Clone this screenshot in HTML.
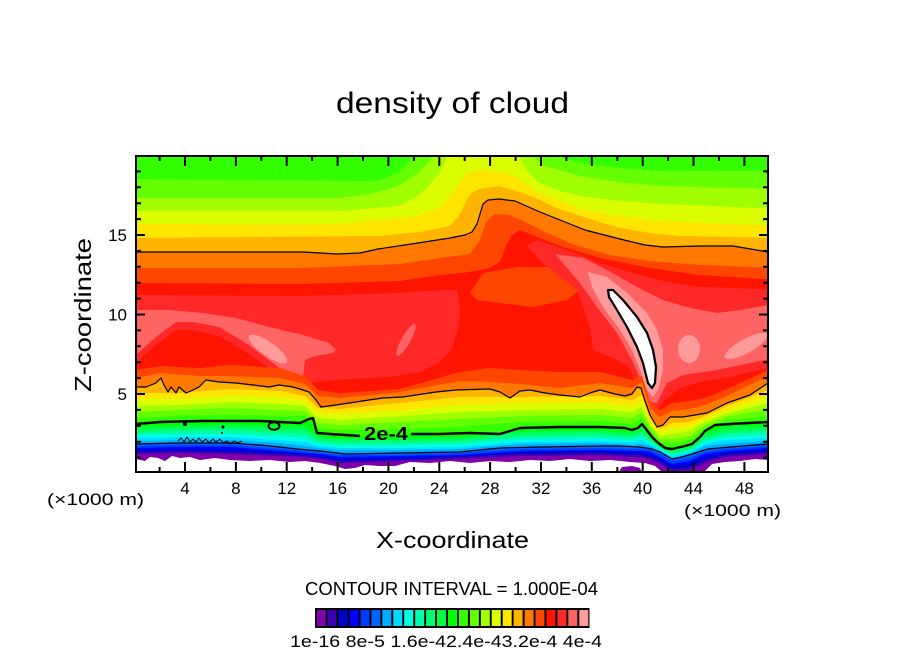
<!DOCTYPE html>
<html><head><meta charset="utf-8"><style>body{margin:0;background:#fff}svg{display:block}</style></head>
<body>
<svg width="904" height="654" viewBox="0 0 904 654" xmlns="http://www.w3.org/2000/svg" font-family="'Liberation Sans', sans-serif">
<defs><clipPath id="c"><rect x="136" y="156" width="632" height="316"/></clipPath></defs>
<rect width="904" height="654" fill="#fff"/>
<g clip-path="url(#c)">
<rect x="130" y="150" width="660" height="340" fill="#32ff00"/>
<polygon fill="#64ff00" points="130,179 250,180 378,181 400,172 418,150 540,150 580,163 620,168 660,171 780,171 780,480 130,480"/>
<polygon fill="#a0ff00" points="130,198 338,198 370,194 398,186 420,172 438,150 523,150 545,166 580,176 620,182 660,186 780,189 780,480 130,480"/>
<polygon fill="#dcff00" points="130,211 338,211 398,206 415,198 426,189 440,172 450,150 515,150 527,170 539,183 560,191 580,196 620,201 660,204 780,209 780,480 130,480"/>
<polygon fill="#ffe600" points="130,224 338,224 418,216 440,207 450,196 460,183 467,173 480,170 491,171 505,173 515,176 527,184 539,193 560,201 580,209 620,216 660,221 780,226 780,480 130,480"/>
<polygon fill="#ffb400" points="130,238 378,236 420,232 450,226 460,214 467,199 472,193 479,189 499,186 523,193 540,200 559,209 590,219 620,228 650,233 680,236 780,238 780,480 130,480"/>
<polygon fill="#ff7800" points="130,252 303,252 337,254 360,253 378,249 418,243 450,238 465,235 472,232 477,224 480,214 483,204 488,200 499,199 515,201 540,212 560,220 585,230 620,239 645,245 663,247 700,246 733,246 768,252 780,253 780,480 130,480"/>
<polygon fill="#ff4600" points="130,268 300,268 400,264 440,258 470,254 480,240 486,222 495,214 510,215 525,222 545,232 575,245 610,255 650,261 700,265 780,268 780,480 130,480"/>
<polygon fill="#ff1400" points="130,283 300,284 400,281 440,275 470,272 490,268 500,262 506,246 512,235 520,230 535,236 560,246 600,258 650,268 700,275 780,280 780,480 130,480"/>
<polygon fill="#ff4600" points="470,293 483,273 517,267 560,267 583,270 583,287 567,300 533,307 500,303 477,300"/>
<polygon fill="#ff2828" points="130,295 300,296 400,293 440,290 457,290 460,310 458,330 452,348 440,362 420,372 390,377 350,379 325,381 305,384 296,384 290,378 269,368 246,352 219,336 193,330 176,330 156,345 130,368"/>
<polygon fill="#ff2828" points="527,246 537,240 567,250 600,263 633,273 667,282 700,287 733,288 780,290 780,365 730,377 700,382 680,388 665,400 655,412 650,410 643,397 637,383 627,365 617,360 593,350 590,327 577,290 543,263"/>
<polygon fill="#ff6464" points="130,310 169,310 203,313 236,318 269,327 303,335 329,343 336,350 333,353 315,356 305,360 303,377 296,383 286,373 269,360 246,343 219,327 193,322 176,322 156,337 130,360"/>
<ellipse cx="406" cy="340" rx="18" ry="4.5" fill="#ff6464" transform="rotate(-60.6 406 340)"/>
<polygon fill="#ff6464" points="555,254 583,258 607,270 637,287 663,300 690,308 717,313 740,310 780,303 780,357 750,363 717,370 683,375 667,383 660,397 657,403 650,402 642,383 632,360 617,333 597,307 580,283 563,263"/>
<ellipse cx="268" cy="349" rx="23" ry="7" fill="#ff9b9b" transform="rotate(35 268 349)"/>
<polygon fill="#ff9b9b" points="588,272 607,277 627,293 647,313 657,330 663,350 663,370 658,390 653,397 647,390 640,370 632,350 620,330 603,307 592,287"/>
<ellipse cx="689" cy="349" rx="11" ry="14" fill="#ff9b9b"/>
<ellipse cx="746" cy="346" rx="24" ry="7" fill="#ff9b9b" transform="rotate(-29 746 346)"/>
<polygon fill="#ffffff" stroke="#000" stroke-width="2.2" stroke-linejoin="round" points="608,290 613,290 623,300 637,317 647,333 653,350 656,367 655,383 652,388 648,383 643,363 637,347 627,327 617,310 609,297"/>

<polygon fill="#ff4600" points="130,370 136,370 160,366 200,368 230,365 280,368 305,376 318,390 340,393 400,389 460,372 490,368 520,370 560,372 600,372 632,380 642,376 650,402 660,410 672,403 690,401 705,398 725,390 768,370 780,370 780,480 130,480"/>
<polygon fill="#ff7800" points="130,378 136,378 160,373 200,376 230,376 280,378 305,384 318,396 340,398 400,392 460,381 490,382 520,384 560,388 600,383 632,388 642,382 650,408 660,417 672,411 690,409 705,405 725,397 768,376 780,376 780,480 130,480"/>
<polygon fill="#ffb400" points="130,387 146,387 156,383 161,378 164,385 168,392 171,387 176,393 179,387 186,393 193,390 199,387 206,380 219,382 236,383 253,385 269,387 279,385 293,387 303,390 309,392 316,400 321,407 336,405 369,400 383,398 403,397 436,392 456,390 490,389 500,392 510,398 520,391 530,390 545,393 560,395 580,397 590,393 600,390 615,394 625,396 632,394 637,387 641,388 644,398 650,415 657,427 663,425 670,417 683,417 707,413 727,403 750,395 768,383 780,380 780,480 130,480"/>
<polygon fill="#ffe600" points="130,393 136,393 180,393 230,389 280,391 305,396 318,408 340,409 400,403 460,397 520,397 600,396 632,400 642,395 650,418 660,429 672,423 690,422 705,416 725,407 768,390 780,390 780,480 130,480"/>
<polygon fill="#dcff00" points="130,399 136,399 180,399 230,396 280,397 305,401 318,413 340,414 400,410 460,405 520,403 600,402 632,406 642,401 650,421 660,432 672,428 690,426 705,419 725,411 768,396 780,396 780,480 130,480"/>
<polygon fill="#a0ff00" points="130,406 136,406 180,405 230,402 280,404 305,406 318,418 340,420 400,416 460,412 520,410 600,409 632,412 642,407 650,425 660,436 672,434 690,431 705,422 725,414 768,403 780,403 780,480 130,480"/>
<polygon fill="#64ff00" points="130,412 136,412 180,410 230,408 280,410 305,411 318,423 340,425 400,422 460,419 520,416 600,415 632,418 642,412 650,428 660,439 672,439 690,436 705,425 725,417 768,409 780,409 780,480 130,480"/>
<polygon fill="#32ff00" points="130,418 136,418 180,416 230,415 280,416 305,416 318,428 340,430 400,429 460,427 520,422 600,421 632,424 642,418 650,431 660,442 672,444 690,440 705,428 725,421 768,416 780,416 780,480 130,480"/>
<polygon fill="#00ff00" points="130,424 136,424 160,422 200,421 230,421 260,421 280,422 300,423 309,419 313,418 317,433 330,434 360,436 385,436 410,434 440,434 470,433 500,434 510,431 520,428 560,427 600,427 625,428 632,430 638,428 642,424 646,429 652,437 657,442 665,448 672,449 685,446 692,444 700,437 705,431 715,425 730,424 768,422 780,422 780,480 130,480"/>
<polygon fill="#00ff3c" points="130,427 136,427 180,425 230,424 280,426 305,425 318,436 340,438 400,438 460,437 520,431 600,430 632,432 642,427 650,436 660,446 672,450 690,446 705,434 725,427 768,425 780,425 780,480 130,480"/>
<polygon fill="#00ff6e" points="130,430 136,430 180,428 230,427 280,429 305,429 318,438 340,440 400,440 460,439 520,433 600,432 632,435 642,431 650,438 660,447 672,452 690,448 705,436 725,431 768,428 780,428 780,480 130,480"/>
<polygon fill="#00ffaa" points="130,433 136,433 180,431 230,430 280,433 305,433 318,441 340,443 400,443 460,442 520,436 600,435 632,437 642,434 650,440 660,448 672,453 690,449 705,439 725,434 768,431 780,431 780,480 130,480"/>
<polygon fill="#00ffe6" points="130,435 136,435 180,434 230,434 280,436 305,438 318,443 340,445 400,445 460,444 520,439 600,438 632,440 642,437 650,442 660,449 672,455 690,451 705,441 725,437 768,435 780,435 780,480 130,480"/>
<polygon fill="#00dcff" points="130,438 136,438 180,437 230,437 280,440 305,442 318,446 340,448 400,448 460,447 520,442 600,441 632,442 642,440 650,444 660,450 672,456 690,452 705,444 725,440 768,438 780,438 780,480 130,480"/>
<polygon fill="#00aaff" points="130,441 136,441 180,440 230,440 280,443 305,446 318,448 340,450 400,450 460,449 520,444 600,443 632,445 642,444 650,446 660,451 672,458 690,454 705,446 725,444 768,441 780,441 780,480 130,480"/>
<polygon fill="#0064ff" points="130,444 136,444 180,443 230,443 260,445 280,447 297,449 320,451 346,454 400,453 459,452 500,448 539,447 600,446 620,446 640,447 652,449 660,452 672,459 682,457 692,454 708,449 730,447 768,444 780,444 780,480 130,480"/>
<polygon fill="#003cff" points="130,446 136,446 180,445 230,445 280,449 305,451 318,453 340,455 400,455 460,453 520,449 600,448 632,449 642,449 650,450 660,454 672,461 690,458 705,452 725,449 768,446 780,446 780,480 130,480"/>
<polygon fill="#0000ff" points="130,448 136,448 180,447 230,447 280,451 305,453 318,454 340,457 400,456 460,455 520,451 600,450 632,451 642,451 650,452 660,457 672,464 690,461 705,454 725,451 768,448 780,448 780,480 130,480"/>
<polygon fill="#0000c8" points="130,450 136,450 180,449 230,450 280,452 305,454 318,456 340,459 400,458 460,456 520,452 600,451 632,453 642,453 650,455 660,459 672,466 690,464 705,457 725,453 768,450 780,450 780,480 130,480"/>
<polygon fill="#3c00b4" points="130,452 136,452 180,451 230,452 280,454 305,456 318,457 340,461 400,460 460,457 520,454 600,453 632,455 642,455 650,457 660,461 672,469 690,467 705,460 725,455 768,452 780,452 780,480 130,480"/>
<polygon fill="#8000aa" points="130,454 136,454 180,453 230,454 280,456 305,457 318,459 340,463 400,461 460,459 520,456 600,455 632,457 642,457 650,459 660,464 672,471 690,470 705,463 725,457 768,454 780,454 780,480 130,480"/>
<polygon fill="#ffffff" points="130,459 136,459 145,461 150,457 158,458 165,461 172,456 180,458 190,457 200,460 215,458 230,460 250,461 270,460 290,462 305,461 320,463 335,466 345,469 355,468 365,465 380,466 395,466 410,462 430,463 450,461 470,463 490,461 510,462 530,460 550,461 570,459 590,461 610,460 630,462 645,463 655,466 662,472 668,478 700,478 706,470 712,464 725,462 740,461 755,459 768,460 780,460 780,480 130,480"/>
<polygon fill="#8000aa" points="618,473 622,467 632,466 640,468 642,473"/>

<g fill="none" stroke="#000" stroke-linejoin="round">
<path stroke-width="1.2" d="M136,252 L303,252 L337,254 L360,253 L378,249 L418,243 L450,238 L465,235 L472,232 L477,224 L480,214 L483,204 L488,200 L499,199 L515,201 L540,212 L560,220 L585,230 L620,239 L645,245 L663,247 L700,246 L733,246 L768,252"/>
<path stroke-width="1.2" d="M136,387 L146,387 L156,383 L161,378 L164,385 L168,392 L171,387 L176,393 L179,387 L186,393 L193,390 L199,387 L206,380 L219,382 L236,383 L253,385 L269,387 L279,385 L293,387 L303,390 L309,392 L316,400 L321,407 L336,405 L369,400 L383,398 L403,397 L436,392 L456,390 L490,389 L500,392 L510,398 L520,391 L530,390 L545,393 L560,395 L580,397 L590,393 L600,390 L615,394 L625,396 L632,394 L637,387 L641,388 L644,398 L650,415 L657,427 L663,425 L670,417 L683,417 L707,413 L727,403 L750,395 L768,383"/>
<path stroke-width="2.4" d="M136,424 L160,422 L200,421 L230,421 L260,421 L280,422 L300,423 L309,419 L313,418 L317,433 L330,434 L360,436 M411,434 L440,434 L470,433 L500,434 L510,431 L520,428 L560,427 L600,427 L625,428 L632,430 L638,428 L642,424 L646,429 L652,437 L657,442 L665,448 L672,449 L685,446 L692,444 L700,437 L705,431 L715,425 L730,424 L768,422"/>
<ellipse cx="274" cy="426" rx="5.5" ry="3.8" stroke-width="2"/>
<path stroke-width="1.2" d="M136,444 L180,443 L230,443 L260,445 L280,447 L297,449 L320,451 L346,454 L400,453 L459,452 L500,448 L539,447 L600,446 L620,446 L640,447 L652,449 L660,452 L672,459 L682,457 L692,454 L708,449 L730,447 L768,444"/>
<path stroke-width="1" d="M178,441 l3,-3 l3,4 l3,-5 l3,5 l3,-3 l3,3 l3,-4 l3,4 l4,-3 l3,4 l4,-4 l3,3 l4,-3 l3,4 l4,-2 l3,3 l4,-3 l4,2 l4,-2"/>
</g>
<circle cx="185" cy="424" r="2" fill="#000"/>
<circle cx="223" cy="427" r="1.5" fill="#000"/>
<circle cx="222" cy="433" r="1" fill="#000"/>
<text x="386" y="440" font-size="18" font-weight="bold" text-anchor="middle" textLength="44" lengthAdjust="spacingAndGlyphs">2e-4</text>
</g>

<rect x="136" y="156" width="632" height="316" fill="none" stroke="#000" stroke-width="2"/>
<g stroke="#000" stroke-width="2" fill="none">
<path d="M185,156v10M235.9,156v10M286.7,156v10M337.6,156v10M388.4,156v10M439.3,156v10M490.1,156v10M541,156v10M591.8,156v10M642.7,156v10M693.5,156v10M744.4,156v10"/>
<path d="M159.6,156v5M210.4,156v5M261.3,156v5M312.1,156v5M363,156v5M413.9,156v5M464.7,156v5M515.6,156v5M566.4,156v5M617.3,156v5M668.1,156v5M719,156v5"/>
<path d="M185,472v-10M235.9,472v-10M286.7,472v-10M337.6,472v-10M388.4,472v-10M439.3,472v-10M490.1,472v-10M541,472v-10M591.8,472v-10M642.7,472v-10M693.5,472v-10M744.4,472v-10"/>
<path d="M159.6,472v-5M210.4,472v-5M261.3,472v-5M312.1,472v-5M363,472v-5M413.9,472v-5M464.7,472v-5M515.6,472v-5M566.4,472v-5M617.3,472v-5M668.1,472v-5M719,472v-5"/>
<path d="M136,394h9M136,314.5h9M136,235h9M768,394h-9M768,314.5h-9M768,235h-9"/>
<path d="M136,457.6h5M136,441.7h5M136,425.8h5M136,409.9h5M136,378.1h5M136,362.2h5M136,346.3h5M136,330.4h5M136,298.6h5M136,282.7h5M136,266.8h5M136,250.9h5M136,219.1h5M136,203.2h5M136,187.3h5M136,171.4h5"/>
<path d="M768,457.6h-5M768,441.7h-5M768,425.8h-5M768,409.9h-5M768,378.1h-5M768,362.2h-5M768,346.3h-5M768,330.4h-5M768,298.6h-5M768,282.7h-5M768,266.8h-5M768,250.9h-5M768,219.1h-5M768,203.2h-5M768,187.3h-5M768,171.4h-5"/>
</g>

<text x="452.5" y="113" font-size="30" text-anchor="middle" textLength="233" lengthAdjust="spacingAndGlyphs">density of cloud</text>
<g font-size="17" text-anchor="middle">
<text x="185" y="494">4</text><text x="235.9" y="494">8</text><text x="286.7" y="494">12</text><text x="337.6" y="494">16</text><text x="388.4" y="494">20</text><text x="439.3" y="494">24</text><text x="490.1" y="494">28</text><text x="541" y="494">32</text><text x="591.8" y="494">36</text><text x="642.7" y="494">40</text><text x="693.5" y="494">44</text><text x="744.4" y="494">48</text>
</g>
<g font-size="17" text-anchor="end">
<text x="127" y="400">5</text><text x="127" y="320.5">10</text><text x="127" y="241">15</text>
</g>
<text x="47" y="505" font-size="17" textLength="97" lengthAdjust="spacingAndGlyphs">(×1000 m)</text>
<text x="684" y="516" font-size="17" textLength="97" lengthAdjust="spacingAndGlyphs">(×1000 m)</text>
<text x="452.5" y="548" font-size="23" text-anchor="middle" textLength="153" lengthAdjust="spacingAndGlyphs">X-coordinate</text>
<text transform="translate(91,315) rotate(-90)" font-size="23" text-anchor="middle" textLength="154" lengthAdjust="spacingAndGlyphs">Z-coordinate</text>
<text x="305" y="595" font-size="18" textLength="293" lengthAdjust="spacingAndGlyphs">CONTOUR INTERVAL = 1.000E-04</text>

<rect x="315" y="608" width="274.5" height="20" fill="#000"/>
<g>
<rect x="316.7" y="610" width="9" height="16" fill="#8000aa"/>
<rect x="327.6" y="610" width="9" height="16" fill="#3c00b4"/>
<rect x="338.6" y="610" width="9" height="16" fill="#0000c8"/>
<rect x="349.5" y="610" width="9" height="16" fill="#0000ff"/>
<rect x="360.5" y="610" width="9" height="16" fill="#003cff"/>
<rect x="371.4" y="610" width="9" height="16" fill="#0064ff"/>
<rect x="382.3" y="610" width="9" height="16" fill="#00aaff"/>
<rect x="393.3" y="610" width="9" height="16" fill="#00dcff"/>
<rect x="404.2" y="610" width="9" height="16" fill="#00ffe6"/>
<rect x="415.2" y="610" width="9" height="16" fill="#00ffaa"/>
<rect x="426.1" y="610" width="9" height="16" fill="#00ff6e"/>
<rect x="437" y="610" width="9" height="16" fill="#00ff3c"/>
<rect x="448" y="610" width="9" height="16" fill="#00ff00"/>
<rect x="458.9" y="610" width="9" height="16" fill="#32ff00"/>
<rect x="469.9" y="610" width="9" height="16" fill="#64ff00"/>
<rect x="480.8" y="610" width="9" height="16" fill="#a0ff00"/>
<rect x="491.7" y="610" width="9" height="16" fill="#dcff00"/>
<rect x="502.7" y="610" width="9" height="16" fill="#ffe600"/>
<rect x="513.6" y="610" width="9" height="16" fill="#ffb400"/>
<rect x="524.6" y="610" width="9" height="16" fill="#ff7800"/>
<rect x="535.5" y="610" width="9" height="16" fill="#ff4600"/>
<rect x="546.4" y="610" width="9" height="16" fill="#ff1400"/>
<rect x="557.4" y="610" width="9" height="16" fill="#ff2828"/>
<rect x="568.3" y="610" width="9" height="16" fill="#ff6464"/>
<rect x="579.3" y="610" width="9" height="16" fill="#ff9b9b"/>
</g>
<text x="290" y="647" font-size="17" textLength="312" lengthAdjust="spacingAndGlyphs">1e-16 8e-5 1.6e-42.4e-43.2e-4 4e-4</text>
</svg>
</body></html>
